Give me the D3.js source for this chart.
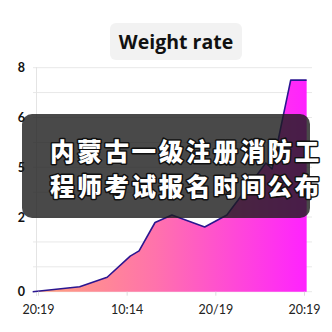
<!DOCTYPE html>
<html><head><meta charset="utf-8">
<script src="https://cdn.jsdelivr.net/npm/d3@7"></script>
<style>html,body{margin:0;padding:0;background:#fff;}svg{display:block;}</style>
</head><body>
<svg id="c" width="332" height="332"></svg>
<script>
const titleText = "Weight rate";
const overlayLines = ["内蒙古一级注册消防工", "程师考试报名时间公布"];
const xPos = [-0.06, 0.47, 0.78, 1.04, 1.14, 1.32, 1.51, 1.88, 2.13, 2.57, 2.64, 2.85, 3.03];
const values = [0, 0.2, 0.58, 1.43, 1.64, 2.78, 3.08, 2.6, 3.08, 5.17, 4.93, 8.5, 8.5];
const xTickValues = [0, 1, 2, 3];
const xTickLabels = ["20:19", "10:14", "20/19", "20:19"];
const yTickValues = [0, 3, 5, 7, 9];
const yTickLabels = ["0", "2", "5", "6", "8"];
const yGrid = [0,1,2,3,4,5,6,7,8,9];

const svg = d3.select("#c");
const x = d3.scaleLinear().domain([0, 3]).range([38, 304]);
const y = d3.scaleLinear().domain([0, 9]).range([291.7, 67.7]);
const data = xPos.map((d, i) => ({x: d, v: values[i]}));

const defs = svg.append("defs");
const g = defs.append("linearGradient").attr("id", "ag")
  .attr("gradientUnits", "userSpaceOnUse")
  .attr("x1", x(xPos[0])).attr("x2", x(xPos[xPos.length-1])).attr("y1", 0).attr("y2", 0);
g.append("stop").attr("offset", "0%").attr("stop-color", "#ffa47a");
g.append("stop").attr("offset", "45%").attr("stop-color", "#ff72ac");
g.append("stop").attr("offset", "100%").attr("stop-color", "#ff22ff");

// grid
svg.append("g").selectAll("line").data(yGrid).join("line")
  .attr("x1", 33).attr("x2", 312)
  .attr("y1", d => y(d)).attr("y2", d => y(d))
  .attr("stroke", "#e8e8e8").attr("stroke-width", 1);
svg.append("line").attr("x1", 36.5).attr("x2", 36.5).attr("y1", 67).attr("y2", 296)
  .attr("stroke", "#e4e4e4");

// area + line
svg.append("path").datum(data)
  .attr("d", d3.area().x(d => x(d.x)).y0(y(0)).y1(d => y(d.v)))
  .attr("fill", "url(#ag)");
svg.append("path").datum(data)
  .attr("d", d3.line().x(d => x(d.x)).y(d => y(d.v)))
  .attr("fill", "none").attr("stroke", "#2b1690").attr("stroke-width", 1.6)
  .attr("stroke-linejoin", "round");

// x axis
const xa = svg.append("g").attr("transform", `translate(0,${y(0)})`)
  .call(d3.axisBottom(x).tickValues(xTickValues).tickFormat((d, i) => xTickLabels[i]).tickSize(4).tickPadding(9));
xa.select(".domain").remove();
xa.selectAll("line").attr("stroke", "#ddd");
xa.selectAll("text").attr("font-family", "Lato, 'Open Sans', sans-serif").attr("font-size", 12.5).attr("fill", "#222");

// y axis
const ya = svg.append("g").attr("transform", `translate(29,0)`)
  .call(d3.axisLeft(y).tickValues(yTickValues).tickFormat((d, i) => yTickLabels[i]).tickSize(0).tickPadding(4));
ya.select(".domain").remove();
ya.selectAll("text").attr("font-family", "Lato, 'Open Sans', sans-serif").attr("font-size", 12.5)
  .attr("font-weight", "bold").attr("fill", "#111");

// title
svg.append("rect").attr("x", 110).attr("y", 23).attr("width", 132).attr("height", 37).attr("rx", 6)
  .attr("fill", "#f2f2f2");
svg.append("text").attr("x", 176).attr("y", 49).attr("text-anchor", "middle")
  .attr("font-family", "'Open Sans', Lato, sans-serif").attr("font-weight", "bold").attr("font-size", 19.5)
  .attr("fill", "#111").text(titleText);

// overlay
svg.append("rect").attr("x", 22).attr("y", 114).attr("width", 288).attr("height", 104).attr("rx", 10)
  .attr("fill", "rgba(28,28,28,0.8)");
svg.append("g").selectAll("text").data(overlayLines).join("text")
  .attr("x", 50).attr("y", (d, i) => 160.5 + i * 35.6)
  .attr("font-family", "'Noto Sans CJK SC', sans-serif").attr("font-weight", 900).attr("font-size", 24.5)
  .attr("letter-spacing", 2.7)
  .attr("fill", "#fff").attr("stroke", "#111").attr("stroke-width", 3).attr("paint-order", "stroke")
  .attr("stroke-linejoin", "round")
  .text(d => d);
</script>
</body></html>
